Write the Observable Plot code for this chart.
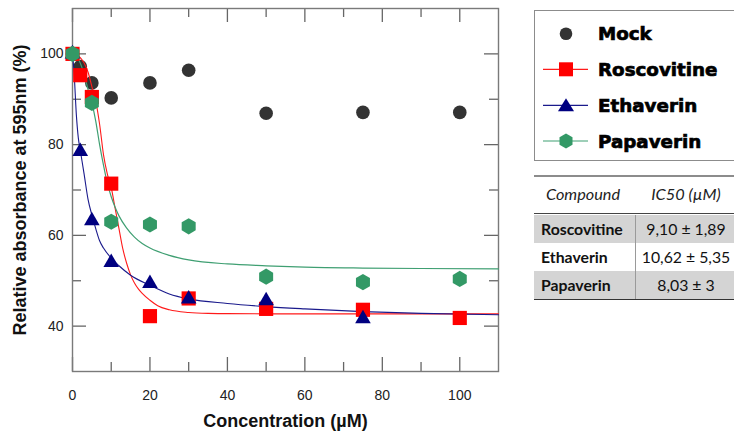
<!DOCTYPE html>
<html><head><meta charset="utf-8">
<script src="https://cdn.jsdelivr.net/npm/d3@7"></script>
<script src="https://cdn.jsdelivr.net/npm/@observablehq/plot@0.6"></script>
<style>
html,body{margin:0;padding:0;background:#fff;}
body{width:734px;height:443px;overflow:hidden;position:relative;font-family:"Liberation Sans",Arial,sans-serif;}
#chart{position:absolute;left:0;top:0;}
#ytitle{position:absolute;left:19.5px;top:189.5px;transform:translate(-50%,-50%) rotate(-90deg);white-space:nowrap;font-family:"Liberation Sans",Arial,sans-serif;font-weight:bold;font-size:18px;color:#111;line-height:20px;}
#legend{position:absolute;left:534px;top:10px;width:220px;height:149px;border:1px solid #8c8c8c;border-right:none;}
#legend svg{position:absolute;left:0;top:0;}
.lg{font-family:"DejaVu Sans",sans-serif;font-weight:bold;font-size:18.3px;fill:#000;stroke:#000;stroke-width:0.7px;}
#table{position:absolute;left:534px;top:175px;width:210px;font-family:Lato,"Noto Sans",sans-serif;font-size:15.8px;color:#111;}
.row{position:absolute;left:0;width:210px;}
.c1{position:absolute;left:7px;}
.c2{position:absolute;left:102px;width:100px;text-align:center;}
</style></head>
<body>
<div id="chart"></div>
<div id="ytitle"></div>
<div id="legend"></div>
<div id="table"></div>
<script>
// ---- data ----
const conc = [0, 2, 5, 10, 20, 30, 50, 75, 100];
const mock = [100, 97.2, 93.6, 90.3, 93.6, 96.4, 86.9, 87.1, 87.1];
const roscovitine = [100, 95.3, 90.5, 71.4, 42.2, 46.1, 43.8, 43.6, 41.8];
const ethaverinConc = [0, 2, 5, 10, 20, 30, 50, 75];
const ethaverin = [100, 78.5, 63.2, 54.0, 49.4, 46.0, 45.6, 41.6];
const papaverinConc = [0, 5, 10, 20, 30, 50, 75, 100];
const papaverin = [100, 89.2, 63.0, 62.4, 62.0, 50.9, 49.7, 50.4];

// fitted curves
const rosFitX = [0, 1, 2, 3, 4, 5, 6, 7, 8, 9, 10, 11, 12, 13, 14, 15, 16, 17, 18, 20, 22, 25, 30, 35, 40, 50, 60, 80, 110];
const rosFitY = [100, 99.8, 99.2, 98, 96, 92.8, 89.6, 84.5, 77.8, 73.5, 70.5, 66, 61.5, 57, 53.8, 51.3, 49.5, 48.2, 47.2, 45.7, 44.5, 43.6, 43.0, 42.8, 42.75, 42.7, 42.7, 42.7, 42.7];
const ethFitX = [0, 0.4, 1, 1.5, 2, 3, 4, 5, 6, 7, 8, 10, 12, 15, 20, 25, 30, 40, 50, 60, 75, 90, 110];
const ethFitY = [100, 96, 86.5, 81.5, 78.8, 73.5, 68, 64.5, 61.5, 58.8, 57.2, 55, 53.3, 51.2, 49, 47.1, 46.0, 45.0, 44.3, 43.8, 43.2, 42.8, 42.5];
const papFitX = [0, 1, 2, 3, 4, 5, 6, 7, 8, 9, 10, 11, 12, 14, 16, 18, 20, 25, 30, 40, 50, 60, 75, 90, 110];
const papFitY = [100, 99.5, 98, 95.5, 92.2, 89.2, 85.2, 80, 75.5, 71.5, 68.5, 66.2, 64.3, 61.6, 59.6, 58.2, 57.2, 55.6, 54.6, 53.7, 53.3, 53.0, 52.8, 52.7, 52.6];

const xMajor = [0, 20, 40, 60, 80, 100];
const xMinor = [10, 30, 50, 70, 90];
const yMajor = [40, 60, 80, 100];
const yMinor = [50, 70, 90];

const xLabel = "Concentration (µM)";
const yLabel = "Relative absorbance at 595nm (%)";

const seriesNames = ["Mock", "Roscovitine", "Ethaverin", "Papaverin"];
const ic50Compounds = ["Roscovitine", "Ethaverin", "Papaverin"];
const ic50Values = ["9,10 ± 1,89", "10,62 ± 5,35", "8,03 ± 3"];
const tableHeader = ["Compound", "IC50 (µM)"];

const colors = {Mock: "#333333", Roscovitine: "#ff0000", Ethaverin: "#000080", Papaverin: "#339966"};
const lineColors = {Roscovitine: "#ff1a1a", Ethaverin: "#1a1a8c", Papaverin: "#3f9f72"};

// ---- tables built from arrays ----
const zipXY = (xs, ys) => xs.map((x, i) => ({x, y: ys[i]}));
const mockPts = zipXY(conc, mock);
const rosPts = zipXY(conc, roscovitine);
const ethPts = zipXY(ethaverinConc, ethaverin);
const papPts = zipXY(papaverinConc, papaverin);
const rosFit = zipXY(rosFitX, rosFitY);
const ethFit = zipXY(ethFitX, ethFitY);
const papFit = zipXY(papFitX, papFitY);

const W = 520, H = 443, mL = 72, mR = 22, mT = 8, mB = 72;
const FH = H - mT - mB, FW = W - mL - mR;
const tickC = "#666";

const plot = Plot.plot({
  width: W, height: H,
  marginLeft: mL, marginRight: mR, marginTop: mT, marginBottom: mB,
  style: {fontFamily: "'Liberation Sans', Arial, sans-serif", fontSize: "14px", background: "transparent", overflow: "visible", color: "#222"},
  x: {domain: [0, 110]},
  y: {domain: [30, 110]},
  marks: [
    Plot.axisX({ticks: xMajor, tickSize: 0, tickPadding: 19, label: null, fontSize: 14, fill: "#222"}),
    Plot.axisY({ticks: yMajor, tickSize: 0, tickPadding: 9, label: null, fontSize: 14, fill: "#222"}),
    // inward ticks on all four sides
    Plot.ruleX(xMajor, {x: d => d, insetBottom: FH - 14, stroke: tickC, strokeWidth: 1.3}),
    Plot.ruleX(xMajor, {x: d => d, insetTop: FH - 14, stroke: tickC, strokeWidth: 1.3}),
    Plot.ruleX(xMinor, {x: d => d, insetBottom: FH - 9, stroke: tickC, strokeWidth: 1.3}),
    Plot.ruleX(xMinor, {x: d => d, insetTop: FH - 9, stroke: tickC, strokeWidth: 1.3}),
    Plot.ruleY(yMajor, {y: d => d, insetRight: FW - 14, stroke: tickC, strokeWidth: 1.3}),
    Plot.ruleY(yMajor, {y: d => d, insetLeft: FW - 14, stroke: tickC, strokeWidth: 1.3}),
    Plot.ruleY(yMinor, {y: d => d, insetRight: FW - 9, stroke: tickC, strokeWidth: 1.3}),
    Plot.ruleY(yMinor, {y: d => d, insetLeft: FW - 9, stroke: tickC, strokeWidth: 1.3}),
    Plot.frame({stroke: "#7a7a7a", strokeWidth: 1.4}),
    // x axis title
    Plot.text([xLabel], {text: d => d, frameAnchor: "bottom", dy: 55, fontWeight: "bold", fontSize: 18, fill: "#111"}),
    // data
    Plot.dot(mockPts, {x: "x", y: "y", r: 6.8, symbol: "circle", fill: colors.Mock}),
    Plot.line(rosFit, {x: "x", y: "y", stroke: lineColors.Roscovitine, strokeWidth: 1.1, curve: "monotone-x"}),
    Plot.line(ethFit, {x: "x", y: "y", stroke: lineColors.Ethaverin, strokeWidth: 1.1, curve: "monotone-x"}),
    Plot.line(papFit, {x: "x", y: "y", stroke: lineColors.Papaverin, strokeWidth: 1.2, curve: "monotone-x"}),
    Plot.dot(rosPts, {x: "x", y: "y", r: 8, symbol: "square", fill: colors.Roscovitine}),
    Plot.dot(ethPts, {x: "x", y: "y", r: 5.8, symbol: "triangle", fill: colors.Ethaverin}),
    Plot.dot(papPts, {x: "x", y: "y", r: 7, symbol: "hexagon", fill: colors.Papaverin})
  ]
});
document.getElementById("chart").appendChild(plot);
document.getElementById("ytitle").textContent = yLabel;

// ---- legend ----
const ns = "http://www.w3.org/2000/svg";
const lsvg = document.createElementNS(ns, "svg");
lsvg.setAttribute("width", 220); lsvg.setAttribute("height", 149);
const rowY = [22.7, 58.3, 94.3, 130];
const symX = 31;
function el(tag, attrs) { const e = document.createElementNS(ns, tag); for (const k in attrs) e.setAttribute(k, attrs[k]); lsvg.appendChild(e); return e; }
seriesNames.forEach((name, i) => {
  const y = rowY[i];
  if (name !== "Mock") el("line", {x1: 8, x2: 53, y1: y, y2: y, stroke: lineColors[name], "stroke-width": 1.2});
  if (name === "Mock") el("circle", {cx: symX, cy: y, r: 6.3, fill: colors[name]});
  if (name === "Roscovitine") el("rect", {x: symX - 7, y: y - 7, width: 14, height: 14, fill: colors[name]});
  if (name === "Ethaverin") el("path", {d: `M${symX},${y - 7}L${symX + 8},${y + 6}L${symX - 8},${y + 6}Z`, fill: colors[name]});
  if (name === "Papaverin") { const rx = 6.5, ry = rx * 2 / Math.sqrt(3), hy = ry / 2;
    el("path", {d: `M${symX},${y + ry}L${symX + rx},${y + hy}L${symX + rx},${y - hy}L${symX},${y - ry}L${symX - rx},${y - hy}L${symX - rx},${y + hy}Z`, fill: colors[name]}); }
  const t = el("text", {x: 63, y: y + 6.6, class: "lg"}); t.textContent = name;
});
document.getElementById("legend").appendChild(lsvg);

// ---- IC50 table ----
const tbl = document.getElementById("table");
let html = `<div style="position:absolute;left:0;top:0;width:210px;height:0;border-top:2px solid #8c8c8c"></div>`;
html += `<div class="row" style="top:6px;height:26px;font-style:italic;font-size:16.3px;line-height:26px;color:#222"><span class="c1" style="left:12px">${tableHeader[0]}</span><span class="c2" style="left:110px;width:84px">${tableHeader[1]}</span></div>`;
html += `<div style="position:absolute;left:0;top:38px;width:210px;height:0;border-top:1.5px solid #444"></div>`;
const rowTops = [39.5, 68, 96];
const rowH = [28.5, 28, 28.5];
ic50Compounds.forEach((c, i) => {
  const bg = i % 2 === 0 ? "#d4d4d4" : "#fff";
  html += `<div class="row" style="top:${rowTops[i]}px;height:${rowH[i]}px;line-height:${rowH[i]}px;background:${bg}"><span class="c1" style="font-weight:bold">${c}</span><span class="c2" style="left:102px;width:100px">${ic50Values[i]}</span></div>`;
});
html += `<div style="position:absolute;left:101px;top:39.5px;width:0;height:85px;border-left:1px solid #9a9a9a"></div>`;
html += `<div style="position:absolute;left:0;top:124px;width:210px;height:0;border-top:1.5px solid #333"></div>`;
tbl.innerHTML = html;
</script>
</body></html>
